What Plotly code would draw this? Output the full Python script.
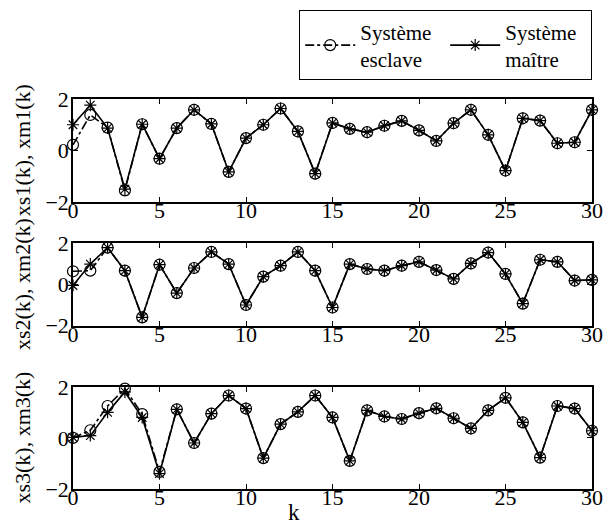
import plotly.graph_objects as go

k = list(range(31))

xm1 = [1.0, 1.76, 0.87, -1.5, 1.02, -0.32, 0.87, 1.58, 1.03, -0.83, 0.48, 1.0, 1.63, 0.74, -0.9, 1.07,
       0.84, 0.71, 0.96, 1.15, 0.78, 0.37, 1.06, 1.58, 0.61, -0.78, 1.25, 1.16, 0.28, 0.32, 1.58]
xs1 = [0.22, 1.38, 0.89, -1.55, 1.02, -0.32, 0.87, 1.58, 1.03, -0.83, 0.48, 1.0, 1.63, 0.74, -0.9, 1.07,
       0.84, 0.71, 0.96, 1.15, 0.78, 0.37, 1.06, 1.58, 0.61, -0.78, 1.25, 1.16, 0.28, 0.32, 1.58]

xm2 = [-0.05, 0.99, 1.79, 0.67, -1.6, 0.96, -0.42, 0.8, 1.58, 0.99, -1.0, 0.38, 0.91, 1.58, 0.67, -1.12,
       0.99, 0.75, 0.67, 0.91, 1.1, 0.7, 0.27, 1.02, 1.55, 0.51, -0.93, 1.2, 1.1, 0.19, 0.22]
xs2 = [0.64, 0.67, 1.79, 0.67, -1.6, 0.96, -0.42, 0.8, 1.58, 0.99, -1.0, 0.38, 0.91, 1.58, 0.67, -1.12,
       0.99, 0.75, 0.67, 0.91, 1.1, 0.7, 0.27, 1.02, 1.55, 0.51, -0.93, 1.2, 1.1, 0.19, 0.22]

xm3 = [0.02, 0.09, 1.0, 1.8, 0.8, -1.4, 1.12, -0.2, 0.95, 1.66, 1.15, -0.79, 0.54, 1.02, 1.66, 0.8,
       -0.9, 1.08, 0.84, 0.74, 0.97, 1.16, 0.77, 0.37, 1.08, 1.57, 0.61, -0.77, 1.25, 1.15, 0.28]
xs3 = [0.0, 0.3, 1.25, 1.93, 0.93, -1.33, 1.12, -0.2, 0.95, 1.66, 1.15, -0.79, 0.54, 1.02, 1.66, 0.8,
       -0.9, 1.08, 0.84, 0.74, 0.97, 1.16, 0.77, 0.37, 1.08, 1.57, 0.61, -0.77, 1.25, 1.15, 0.28]

y_titles = ["xs1(k), xm1(k)", "xs2(k), xm2(k)", "xs3(k), xm3(k)"]
legend_names = ["Système<br>esclave", "Système<br>maître"]
x_ticks = [0, 5, 10, 15, 20, 25, 30]
y_ticks = [-2, 0, 2]

FONT = "Liberation Serif"
domains = [[0.736, 1.0], [0.419, 0.630], [0.0, 0.262]]
slaves = [xs1, xs2, xs3]
masters = [xm1, xm2, xm3]

fig = go.Figure()
for i in range(3):
    xa = "x" if i == 0 else f"x{i+1}"
    ya = "y" if i == 0 else f"y{i+1}"
    fig.add_trace(go.Scatter(
        x=k, y=slaves[i], xaxis=xa, yaxis=ya, mode="lines+markers",
        name=legend_names[0], showlegend=(i == 0), cliponaxis=False,
        line=dict(color="black", width=1.6, dash="dashdot"),
        marker=dict(symbol="circle-open", size=11, color="black", line=dict(width=1.2)),
    ))
    fig.add_trace(go.Scatter(
        x=k, y=masters[i], xaxis=xa, yaxis=ya, mode="lines+markers",
        name=legend_names[1], showlegend=(i == 0), cliponaxis=False,
        line=dict(color="black", width=1.6),
        marker=dict(symbol="asterisk-open", size=10, color="black", line=dict(width=1.2, color="black")),
    ))

axis_common = dict(showline=True, linecolor="black", linewidth=1.5, mirror="ticks",
                   ticks="inside", ticklen=5, tickcolor="black", showgrid=False, zeroline=False,
                   tickfont=dict(family=FONT, size=22, color="black"))

layout = dict(
    width=613, height=528,
    margin=dict(l=73, r=10, t=95, b=39),
    paper_bgcolor="white", plot_bgcolor="white",
    font=dict(family=FONT, color="black"),
    legend=dict(orientation="h", x=1.0, y=1.228, xanchor="right", yanchor="top",
                bordercolor="black", borderwidth=1.2, bgcolor="white",
                font=dict(family=FONT, size=21, color="black"),
                entrywidth=80, itemwidth=50, tracegroupgap=0),
)
for i in range(3):
    xk = "xaxis" if i == 0 else f"xaxis{i+1}"
    yk = "yaxis" if i == 0 else f"yaxis{i+1}"
    layout[xk] = dict(domain=[0, 1], anchor="y" if i == 0 else f"y{i+1}", range=[0, 30],
                      tickvals=x_ticks, ticklabelstandoff=-12, **axis_common)
    layout[yk] = dict(domain=domains[i], anchor="x" if i == 0 else f"x{i+1}", range=[-2, 2],
                      tickvals=y_ticks, ticklabelstandoff=-2, **axis_common)

fig.update_layout(**layout)

annotations = []
for i in range(3):
    annotations.append(dict(text=y_titles[i], textangle=-90, xref="paper", yref="paper",
                            x=-0.097, y=sum(domains[i]) / 2, xanchor="center", yanchor="middle",
                            showarrow=False, font=dict(family=FONT, size=22, color="black")))
annotations.append(dict(text="k", xref="paper", yref="paper", x=0.425, y=-0.097,
                        xanchor="center", yanchor="bottom", showarrow=False,
                        font=dict(family=FONT, size=23, color="black")))
fig.update_layout(annotations=annotations)

fig.write_html("out.html")
